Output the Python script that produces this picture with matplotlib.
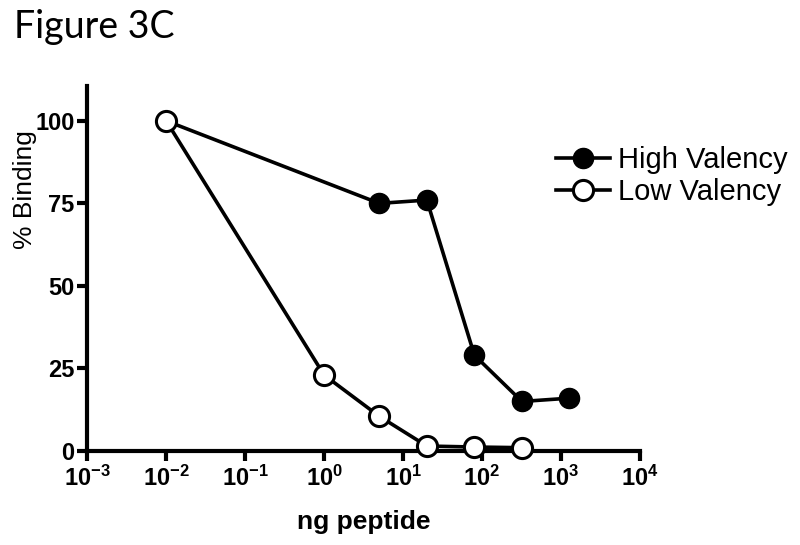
import matplotlib
matplotlib.use("Agg")
import matplotlib.pyplot as plt

plt.rcParams["font.family"] = ["Liberation Sans", "DejaVu Sans"]
plt.rcParams["mathtext.fontset"] = "custom"
plt.rcParams["mathtext.rm"] = "Liberation Sans:bold"
plt.rcParams["mathtext.default"] = "rm"

# ng peptide doses
high_x = [0.01, 5, 20, 80, 320, 1280]
high_y = [100, 75, 76, 29, 15, 16]
low_x = [0.01, 1, 5, 20, 80, 320]
low_y = [100, 23, 10.5, 1.5, 1.2, 1]

x_ticks = [1e-3, 1e-2, 1e-1, 1e0, 1e1, 1e2, 1e3, 1e4]
x_tick_labels = ["$10^{-3}$", "$10^{-2}$", "$10^{-1}$", "$10^{0}$",
                 "$10^{1}$", "$10^{2}$", "$10^{3}$", "$10^{4}$"]
y_ticks = [0, 25, 50, 75, 100]

fig = plt.figure(figsize=(8, 5.45), dpi=100)
ax = fig.add_axes([0.109, 0.1725, 0.691, 0.67])

ax.plot(high_x, high_y, color="black", lw=2.6, marker="o", ms=14.5,
        mfc="black", mec="black", clip_on=False, zorder=3,
        label="High Valency")
ax.plot(low_x, low_y, color="black", lw=2.6, marker="o", ms=14.5,
        mfc="white", mec="black", mew=2.2, clip_on=False, zorder=3,
        label="Low Valency")

ax.set_xscale("log")
ax.set_xlim(1e-3, 1e4)
ax.set_ylim(0, 110.6)
ax.set_xticks(x_ticks)
ax.set_xticklabels(x_tick_labels)
ax.xaxis.set_minor_locator(matplotlib.ticker.NullLocator())
ax.set_yticks(y_ticks)
ax.set_yticklabels([str(v) for v in y_ticks], fontweight="bold")

for side in ["top", "right"]:
    ax.spines[side].set_visible(False)
for side in ["left", "bottom"]:
    ax.spines[side].set_linewidth(3)
ax.tick_params(axis="both", which="major", length=7, width=3,
               labelsize=17, pad=2)
ax.tick_params(axis="x", pad=3.5)

ax.set_xlabel("ng peptide", fontsize=19, fontweight="bold", labelpad=14)
ax.set_ylabel("% Binding", fontsize=19)
ax.yaxis.set_label_coords(-0.09, 0.715)

fig.legend(loc="center left", bbox_to_anchor=(0.695, 0.677), frameon=False,
           fontsize=21, handlelength=1.85, handletextpad=0.28,
           labelspacing=0.15, borderpad=0, borderaxespad=0)

fig.text(0.017, 0.95, "Figure 3C", fontsize=27, family=["Lato", "DejaVu Sans"],
         va="center", ha="left")

fig.savefig("out.png", dpi=100)
